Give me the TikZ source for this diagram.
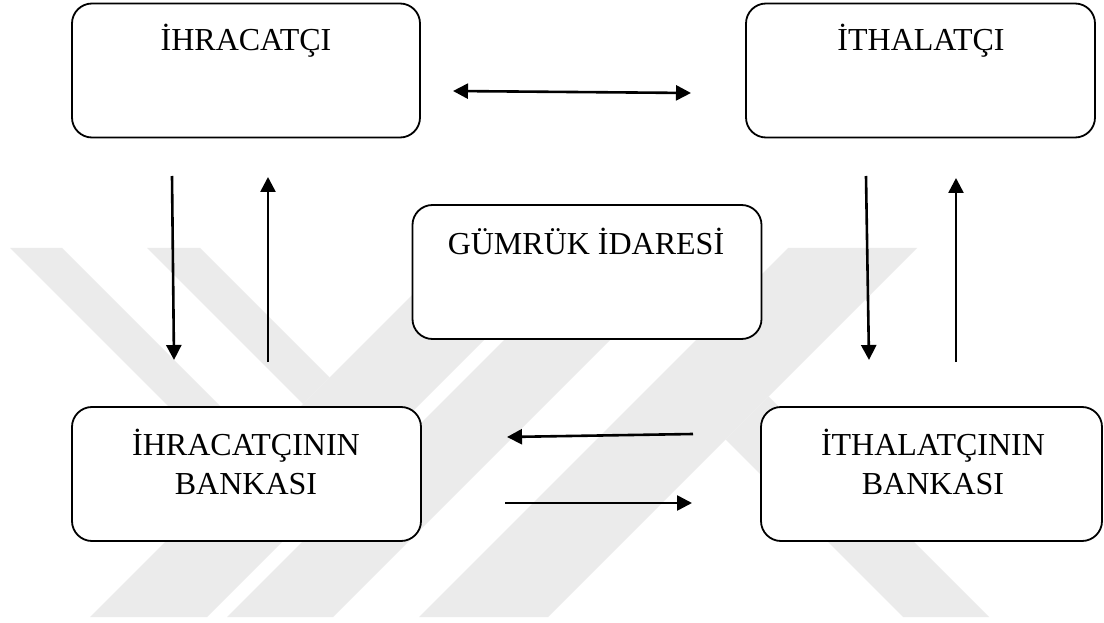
\documentclass[tikz,border=0pt]{standalone}
\usepackage{fontspec}
\setmainfont{Liberation Serif}
\usetikzlibrary{arrows.meta}
\begin{document}
\begin{tikzpicture}[x=1bp,y=-1bp,
  box/.style={draw=black, line width=1.8bp, rounded corners=20bp, fill=white, inner sep=0pt},
  lbl/.style={font=\fontsize{32bp}{39bp}\selectfont, align=center, inner sep=0pt, anchor=base},
  tip/.tip={Triangle[length=15bp,width=15bp]},
  arr/.style={line width=2.6bp, -tip},
  dblarr/.style={line width=2.6bp, tip-tip},
  wm/.style={fill=black!8, draw=none}]
\useasboundingbox (0,0) rectangle (1104,623);
\fill[white] (0,0) rectangle (1104,623);

% faint background emblem made of slanted bands
\fill[wm] (10,248) -- (62,248) -- (260.5,446.5) -- (234.5,472.5) -- cycle;
\fill[wm] (147,248) -- (200,248) -- (329.5,377.5) -- (303,404) -- cycle;
\fill[wm] (90,617) -- (207,617) -- (576,248) -- (459,248) -- cycle;
\fill[wm] (227,617) -- (333,617) -- (702,248) -- (596,248) -- cycle;
\fill[wm] (788,248) -- (917,248) -- (548,617) -- (419,617) -- cycle;
\fill[wm] (725.5,439.5) -- (903,617) -- (989,617) -- (768.5,396.5) -- cycle;

% boxes
\node[box, minimum width=348bp, minimum height=134bp] (ihr) at (246,70.5) {};
\node[box, minimum width=349bp, minimum height=134bp] (ith) at (920.5,70.5) {};
\node[box, minimum width=349bp, minimum height=134bp] (gum) at (587,272) {};
\node[box, minimum width=349bp, minimum height=134bp] (ihrb) at (246.5,474) {};
\node[box, minimum width=341bp, minimum height=134bp] (ithb) at (931.5,474) {};

% labels
\node[lbl] (ihrT) at (246,51) {İHRACATÇI};
\node[lbl] (ithT) at (921,51) {İTHALATÇI};
\node[lbl] (gumT) at (586,255) {GÜMRÜK İDARESİ};
\node[lbl] (ihrbT) at (246,494) {İHRACATÇININ\\BANKASI};
\node[lbl] (ithbT) at (933,494) {İTHALATÇININ\\BANKASI};

% arrow end points
\coordinate (tA) at (453,91);   \coordinate (tB) at (691,93);
\coordinate (l1a) at (172,176); \coordinate (l1b) at (174,360);
\coordinate (l2a) at (268,362); \coordinate (l2b) at (268,177);
\coordinate (r1a) at (866,176); \coordinate (r1b) at (869,360);
\coordinate (r2a) at (956,362); \coordinate (r2b) at (956,178);
\coordinate (b1a) at (693,434); \coordinate (b1b) at (507,437);
\coordinate (b2a) at (505,503); \coordinate (b2b) at (692,503);

% arrows
\draw[dblarr] (tA) -- (tB);
\draw[arr] (l1a) -- (l1b);
\draw[arr] (l2a) -- (l2b);
\draw[arr] (r1a) -- (r1b);
\draw[arr] (r2a) -- (r2b);
\draw[arr] (b1a) -- (b1b);
\draw[arr] (b2a) -- (b2b);
\end{tikzpicture}
\end{document}
